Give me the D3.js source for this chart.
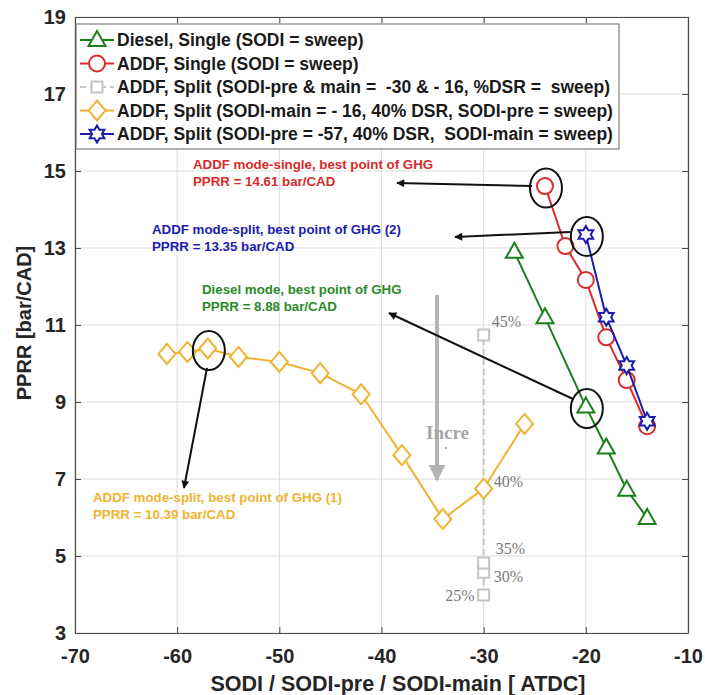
<!DOCTYPE html>
<html><head><meta charset="utf-8">
<script src="https://cdn.jsdelivr.net/npm/d3@7"></script>
<style>body{margin:0;background:#fff} text{white-space:pre}</style>
</head><body>
<svg id="c" width="705" height="695"></svg>
<script>
// ---------- data ----------
const xTicks = [-70, -60, -50, -40, -30, -20, -10];
const yTicks = [3, 5, 7, 9, 11, 13, 15, 17, 19];

const dieselX = [-27, -24, -20, -18, -16, -14];
const dieselY = [12.9, 11.2, 8.88, 7.82, 6.72, 5.99];

const addfSingleX = [-24, -22, -20, -18, -16, -14];
const addfSingleY = [14.61, 13.05, 12.17, 10.68, 9.57, 8.37];

const splitDsrX = [-30, -30, -30, -30, -30];
const splitDsrY = [3.99, 4.58, 4.82, 6.75, 10.74];
const splitDsrLabels = ["25%", "30%", "35%", "40%", "45%"];

const splitPreX = [-61, -59, -57, -54, -50, -46, -42, -38, -34, -30, -26];
const splitPreY = [10.25, 10.3, 10.39, 10.17, 10.04, 9.75, 9.2, 7.62, 5.96, 6.75, 8.43];

const splitMainX = [-20, -18, -16, -14];
const splitMainY = [13.35, 11.2, 9.95, 8.5];

const legendLabels = [
  "Diesel, Single (SODI = sweep)",
  "ADDF, Single (SODI = sweep)",
  "ADDF, Split (SODI-pre & main =  -30 & - 16, %DSR =  sweep)",
  "ADDF, Split (SODI-main = - 16, 40% DSR, SODI-pre = sweep)",
  "ADDF, Split (SODI-pre = -57, 40% DSR,  SODI-main = sweep)"
];

const annotationLines = [
  ["ADDF mode-single, best point of GHG", "PPRR = 14.61 bar/CAD"],
  ["ADDF mode-split, best point of GHG (2)", "PPRR = 13.35 bar/CAD"],
  ["Diesel mode, best point of GHG", "PPRR = 8.88 bar/CAD"],
  ["ADDF mode-split, best point of GHG (1)", "PPRR = 10.39 bar/CAD"]
];

// ---------- setup ----------
const svg = d3.select("#c");
const L = 75, R = 688, T = 17, B = 633;
const x = d3.scaleLinear().domain([-70, -10]).range([L, R]);
const y = d3.scaleLinear().domain([3, 19]).range([B, T]);
const SANS = "Liberation Sans, Arial, sans-serif";
const SERIF = "Liberation Serif, Times New Roman, serif";

const C = {
  green: "#1c7f1c", red: "#d92b2b", gray: "#c4c4c4",
  yellow: "#efb331", blue: "#1c1cae"
};

// grid
const g = svg.append("g");
g.selectAll(".gx").data(xTicks).join("line")
  .attr("x1", d => x(d)).attr("x2", d => x(d)).attr("y1", T).attr("y2", B)
  .attr("stroke", "#dddddd").attr("stroke-width", 1);
g.selectAll(".gy").data(yTicks).join("line")
  .attr("y1", d => y(d)).attr("y2", d => y(d)).attr("x1", L).attr("x2", R)
  .attr("stroke", "#dddddd").attr("stroke-width", 1);

// axes
const axisColor = "#4a4a4a";
const fmt = d => String(d);
const xb = svg.append("g").attr("transform", `translate(0,${B})`)
  .call(d3.axisBottom(x).tickValues(xTicks).tickFormat(fmt).tickSizeInner(-6).tickSizeOuter(0).tickPadding(16));
const yl = svg.append("g").attr("transform", `translate(${L},0)`)
  .call(d3.axisLeft(y).tickValues(yTicks).tickFormat(fmt).tickSizeInner(-6).tickSizeOuter(0).tickPadding(9));
const xt = svg.append("g").attr("transform", `translate(0,${T})`)
  .call(d3.axisTop(x).tickValues(xTicks).tickSizeInner(-6).tickSizeOuter(0).tickFormat(""));
const yr = svg.append("g").attr("transform", `translate(${R},0)`)
  .call(d3.axisRight(y).tickValues(yTicks).tickSizeInner(-6).tickSizeOuter(0).tickFormat(""));
[xb, yl, xt, yr].forEach(a => {
  a.select(".domain").attr("stroke", axisColor).attr("stroke-width", 1.2);
  a.selectAll(".tick line").attr("stroke", axisColor);
  a.selectAll("text").attr("font-family", SANS)
    .attr("font-weight", "bold").attr("font-size", 20).attr("fill", "#262626");
});
xb.selectAll("text").attr("dy", "0.71em");

// axis labels
svg.append("text").attr("x", 398).attr("y", 691).attr("text-anchor", "middle")
  .attr("font-family", SANS).attr("font-weight", "bold")
  .attr("font-size", 21.5).attr("fill", "#262626").text("SODI / SODI-pre / SODI-main [ ATDC]");
svg.append("text").attr("transform", `translate(31,${323}) rotate(-90)`)
  .attr("text-anchor", "middle")
  .attr("font-family", SANS).attr("font-weight", "bold")
  .attr("font-size", 20).attr("fill", "#262626").text("PPRR [bar/CAD]");

// ---------- marker shapes ----------
function starPath(ro) {
  const ri = ro / Math.sqrt(3), pts = [];
  for (let i = 0; i < 12; i++) {
    const a = -Math.PI / 2 + i * Math.PI / 6, r = i % 2 ? ri : ro;
    pts.push([r * Math.cos(a), r * Math.sin(a)]);
  }
  return "M" + pts.map(p => p.join(",")).join("L") + "Z";
}
const shapes = {
  triangle: "M0,-9L8.5,6L-8.5,6Z",
  circle: d3.symbol(d3.symbolCircle, Math.PI * 8 * 8)(),
  square: "M-5.5,-5.5H5.5V5.5H-5.5Z",
  diamond: "M0,-10L8.5,0L0,10L-8.5,0Z",
  star: starPath(8.5)
};

const series = [
  { xs: dieselX, ys: dieselY, color: C.green, shape: "triangle", dash: null },
  { xs: addfSingleX, ys: addfSingleY, color: C.red, shape: "circle", dash: null },
  { xs: splitDsrX, ys: splitDsrY, color: C.gray, shape: "square", dash: "6,4" },
  { xs: splitPreX, ys: splitPreY, color: C.yellow, shape: "diamond", dash: null },
  { xs: splitMainX, ys: splitMainY, color: C.blue, shape: "star", dash: null }
];

const line = d3.line().x(d => x(d[0])).y(d => y(d[1]));
const drawOrder = [2, 3, 0, 1, 4];
drawOrder.forEach(i => {
  const s = series[i];
  const pts = s.xs.map((v, k) => [v, s.ys[k]]);
  svg.append("path").attr("d", line(pts)).attr("fill", "none")
    .attr("stroke", s.color).attr("stroke-width", 2)
    .attr("stroke-dasharray", s.dash);
  // skip markers hidden under another series' identical point
  const hidden = p => i === 2 && splitPreX.some((vx, k) => vx === p[0] && splitPreY[k] === p[1]);
  svg.append("g").selectAll("path").data(pts.filter(p => !hidden(p))).join("path")
    .attr("d", shapes[s.shape])
    .attr("transform", d => `translate(${x(d[0])},${y(d[1])})`)
    .attr("fill", "#fff").attr("stroke", s.color).attr("stroke-width", 2);
});

// percent labels for DSR sweep
const pctOffsets = [[-9, 6, "end"], [10, 10, "start"], [12, -9, "start"], [10, -2, "start"], [8, -8, "start"]];
splitDsrLabels.forEach((t, k) => {
  svg.append("text").attr("x", x(splitDsrX[k]) + pctOffsets[k][0])
    .attr("y", y(splitDsrY[k]) + pctOffsets[k][1]).attr("text-anchor", pctOffsets[k][2])
    .attr("font-family", SERIF).attr("font-size", 16)
    .attr("fill", "#7a7a7a").text(t);
});

// ---------- annotations ----------
const defs = svg.append("defs");
defs.append("marker").attr("id", "ah").attr("viewBox", "0 0 10 10").attr("refX", 9).attr("refY", 5)
  .attr("markerWidth", 10).attr("markerHeight", 8).attr("markerUnits", "userSpaceOnUse")
  .attr("orient", "auto").append("path").attr("d", "M0,0L10,5L0,10Z").attr("fill", "#111");
defs.append("marker").attr("id", "gh").attr("viewBox", "0 0 10 10").attr("refX", 9).attr("refY", 5)
  .attr("markerWidth", 17).attr("markerHeight", 17).attr("markerUnits", "userSpaceOnUse")
  .attr("orient", "auto").append("path").attr("d", "M0,0L10,5L0,10Z").attr("fill", "#b4b4b4");

// gray "increase" arrow
svg.append("line").attr("x1", 437).attr("x2", 437).attr("y1", 295).attr("y2", 480)
  .attr("stroke", "#b4b4b4").attr("stroke-width", 4).attr("marker-end", "url(#gh)");
svg.append("text").attr("x", 426).attr("y", 439)
  .attr("font-family", SERIF).attr("font-weight", "bold")
  .attr("font-size", 19).attr("fill", "#a6a6a6").text("Incre");
svg.append("circle").attr("cx", 446).attr("cy", 448).attr("r", 1).attr("fill", "#a6a6a6");

const best = [
  { sx: addfSingleX[0], sy: addfSingleY[0], color: C.red, tx: 193, ty: 169, a: [532, 186, 397, 183] },
  { sx: splitMainX[0], sy: splitMainY[0], color: C.blue, tx: 152, ty: 234, a: [570, 232, 455, 237] },
  { sx: dieselX[2], sy: dieselY[2], color: "#2a8a2a", tx: 202, ty: 294, a: [573, 399, 389, 313] },
  { sx: splitPreX[2], sy: splitPreY[2], color: C.yellow, tx: 93, ty: 502, a: [207, 368, 184, 488] }
];
best.forEach((b, i) => {
  svg.append("ellipse").attr("cx", x(b.sx) + 1).attr("cy", y(b.sy) + 2).attr("rx", 16).attr("ry", 19.5)
    .attr("fill", "none").attr("stroke", "#111").attr("stroke-width", 2);
  svg.append("line").attr("x1", b.a[0]).attr("y1", b.a[1]).attr("x2", b.a[2]).attr("y2", b.a[3])
    .attr("stroke", "#111").attr("stroke-width", 2).attr("marker-end", "url(#ah)");
  annotationLines[i].forEach((t, k) => {
    svg.append("text").attr("x", b.tx).attr("y", b.ty + k * 17)
      .attr("font-family", SANS).attr("font-weight", "bold")
      .attr("font-size", 13.3).attr("fill", b.color).text(t);
  });
});

// ---------- legend ----------
const lg = svg.append("g");
lg.append("rect").attr("x", 76).attr("y", 24).attr("width", 543).attr("height", 125)
  .attr("fill", "#fff").attr("stroke", "#666").attr("stroke-width", 1);
const rowY = [40, 63.5, 87, 110.5, 134];
series.forEach((s, i) => {
  lg.append("line").attr("x1", 80).attr("x2", 114).attr("y1", rowY[i]).attr("y2", rowY[i])
    .attr("stroke", s.color).attr("stroke-width", 2).attr("stroke-dasharray", s.dash);
  lg.append("path").attr("d", shapes[s.shape]).attr("transform", `translate(97,${rowY[i]})`)
    .attr("fill", "#fff").attr("stroke", s.color).attr("stroke-width", 2);
  lg.append("text").attr("x", 117).attr("y", rowY[i]).attr("dy", "0.36em")
    .attr("font-family", SANS).attr("font-weight", "bold")
    .attr("font-size", 17.5).attr("fill", "#1a1a1a").text(legendLabels[i]);
});
</script>
</body></html>
